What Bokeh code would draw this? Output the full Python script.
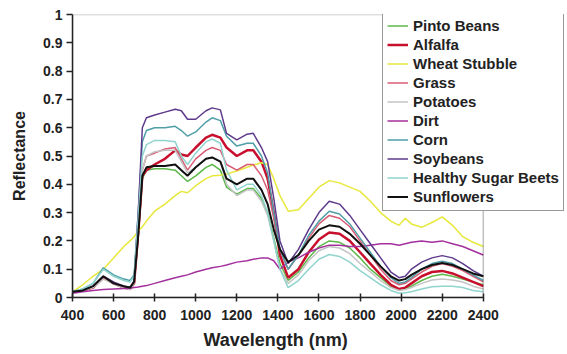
from bokeh.plotting import figure
from bokeh.models import Range1d, FixedTicker, CustomJSTickFormatter, Legend, LegendItem, BoxAnnotation, Title
from bokeh.embed import file_html
from bokeh.resources import INLINE

wavelength = [400, 450, 500, 550, 600, 650, 680, 700, 720, 740,
              760, 800, 850, 900, 930, 960, 1000, 1050, 1080, 1120,
              1150, 1200, 1250, 1280, 1320, 1350, 1380, 1410, 1450, 1500,
              1550, 1600, 1650, 1700, 1750, 1800, 1850, 1900, 1950, 1990,
              2020, 2050, 2100, 2150, 2200, 2250, 2300, 2350, 2400]

pinto_beans = [0.02, 0.025, 0.035, 0.068, 0.05, 0.035, 0.03, 0.05, 0.22, 0.42,
               0.45, 0.455, 0.455, 0.45, 0.43, 0.41, 0.43, 0.46, 0.47, 0.45,
               0.39, 0.365, 0.385, 0.385, 0.35, 0.30, 0.21, 0.12, 0.06, 0.09,
               0.14, 0.18, 0.20, 0.195, 0.175, 0.14, 0.10, 0.07, 0.04, 0.03,
               0.032, 0.04, 0.06, 0.075, 0.082, 0.075, 0.065, 0.055, 0.045]
alfalfa = [0.02, 0.025, 0.035, 0.07, 0.05, 0.035, 0.03, 0.05, 0.23, 0.43,
           0.45, 0.47, 0.49, 0.52, 0.505, 0.50, 0.53, 0.565, 0.575, 0.565,
           0.53, 0.50, 0.52, 0.52, 0.48, 0.42, 0.30, 0.15, 0.07, 0.10,
           0.16, 0.205, 0.23, 0.225, 0.20, 0.16, 0.12, 0.08, 0.045, 0.03,
           0.035, 0.05, 0.075, 0.09, 0.094, 0.085, 0.07, 0.055, 0.04]
wheat_stubble = [0.02, 0.045, 0.075, 0.10, 0.14, 0.18, 0.20, 0.215, 0.235, 0.25,
                 0.27, 0.305, 0.33, 0.36, 0.375, 0.37, 0.395, 0.42, 0.43, 0.432,
                 0.436, 0.447, 0.46, 0.468, 0.476, 0.47, 0.42, 0.36, 0.305, 0.31,
                 0.35, 0.39, 0.413, 0.405, 0.39, 0.375, 0.34, 0.30, 0.27, 0.255,
                 0.28, 0.26, 0.248, 0.265, 0.285, 0.255, 0.215, 0.195, 0.18]
grass = [0.02, 0.025, 0.035, 0.07, 0.05, 0.035, 0.03, 0.05, 0.25, 0.45,
         0.50, 0.51, 0.525, 0.53, 0.49, 0.45, 0.49, 0.52, 0.53, 0.52,
         0.47, 0.45, 0.47, 0.47, 0.43, 0.38, 0.28, 0.17, 0.10, 0.15,
         0.21, 0.26, 0.29, 0.28, 0.25, 0.20, 0.15, 0.10, 0.06, 0.045,
         0.05, 0.065, 0.09, 0.11, 0.12, 0.11, 0.095, 0.075, 0.055]
potatoes = [0.02, 0.025, 0.035, 0.065, 0.048, 0.033, 0.028, 0.05, 0.25, 0.45,
            0.50, 0.515, 0.52, 0.52, 0.48, 0.44, 0.46, 0.49, 0.495, 0.48,
            0.40, 0.36, 0.38, 0.38, 0.34, 0.29, 0.20, 0.10, 0.05, 0.08,
            0.13, 0.165, 0.18, 0.175, 0.155, 0.12, 0.09, 0.06, 0.035, 0.025,
            0.028, 0.035, 0.05, 0.062, 0.065, 0.062, 0.055, 0.04, 0.03]
dirt = [0.015, 0.02, 0.025, 0.028, 0.03, 0.032, 0.033, 0.035, 0.037, 0.04,
        0.042, 0.05, 0.06, 0.07, 0.075, 0.08, 0.09, 0.10, 0.105, 0.11,
        0.115, 0.125, 0.13, 0.135, 0.14, 0.14, 0.13, 0.10, 0.125, 0.14,
        0.16, 0.175, 0.185, 0.185, 0.18, 0.18, 0.185, 0.19, 0.19, 0.185,
        0.19, 0.195, 0.20, 0.195, 0.20, 0.19, 0.18, 0.165, 0.15]
corn = [0.02, 0.03, 0.05, 0.105, 0.08, 0.065, 0.06, 0.08, 0.30, 0.55,
        0.59, 0.60, 0.60, 0.605, 0.59, 0.57, 0.585, 0.62, 0.635, 0.625,
        0.57, 0.535, 0.545, 0.545, 0.50, 0.44, 0.30, 0.17, 0.10, 0.15,
        0.22, 0.27, 0.305, 0.295, 0.26, 0.21, 0.16, 0.11, 0.07, 0.05,
        0.055, 0.07, 0.10, 0.12, 0.128, 0.12, 0.10, 0.08, 0.06]
soybeans = [0.02, 0.025, 0.04, 0.075, 0.055, 0.04, 0.035, 0.06, 0.30, 0.60,
            0.635, 0.645, 0.655, 0.665, 0.66, 0.63, 0.63, 0.66, 0.67, 0.663,
            0.58, 0.557, 0.577, 0.58, 0.53, 0.48, 0.35, 0.20, 0.12, 0.17,
            0.24, 0.30, 0.34, 0.33, 0.29, 0.24, 0.19, 0.14, 0.09, 0.07,
            0.075, 0.10, 0.125, 0.14, 0.148, 0.14, 0.12, 0.095, 0.075]
healthy_sugar_beets = [0.02, 0.03, 0.05, 0.10, 0.075, 0.06, 0.055, 0.075, 0.28, 0.50,
                       0.54, 0.555, 0.555, 0.55, 0.50, 0.47, 0.51, 0.55, 0.56, 0.545,
                       0.45, 0.38, 0.40, 0.40, 0.36, 0.30, 0.20, 0.10, 0.035, 0.06,
                       0.10, 0.135, 0.152, 0.145, 0.125, 0.095, 0.07, 0.045, 0.025, 0.015,
                       0.017, 0.02, 0.03, 0.038, 0.04, 0.04, 0.035, 0.025, 0.02]
sunflowers = [0.02, 0.025, 0.04, 0.075, 0.05, 0.04, 0.035, 0.055, 0.22, 0.43,
              0.46, 0.465, 0.465, 0.47, 0.45, 0.43, 0.46, 0.49, 0.495, 0.48,
              0.42, 0.40, 0.42, 0.42, 0.38, 0.33, 0.24, 0.17, 0.125, 0.15,
              0.20, 0.24, 0.255, 0.25, 0.225, 0.19, 0.15, 0.11, 0.075, 0.06,
              0.065, 0.08, 0.10, 0.115, 0.122, 0.115, 0.10, 0.085, 0.075]

series_names = ["Pinto Beans", "Alfalfa", "Wheat Stubble", "Grass", "Potatoes",
                "Dirt", "Corn", "Soybeans", "Healthy Sugar Beets", "Sunflowers"]
series_values = [pinto_beans, alfalfa, wheat_stubble, grass, potatoes,
                 dirt, corn, soybeans, healthy_sugar_beets, sunflowers]
series_colors = ["#5cb848", "#c8102e", "#e8e83c", "#d85c74", "#c4c4c4",
                 "#a4309e", "#4f9ea8", "#5e3a8c", "#90d4ce", "#111111"]
series_widths = [1.5, 2.5, 1.5, 1.5, 1.5, 1.5, 1.5, 1.5, 1.5, 2.0]

x_ticks = [400, 600, 800, 1000, 1200, 1400, 1600, 1800, 2000, 2200, 2400]
y_ticks = [0, 0.1, 0.2, 0.3, 0.4, 0.5, 0.6, 0.7, 0.8, 0.9, 1.0]
x_min, x_max = 400, 2400
y_min, y_max = 0, 1

FONT = "Liberation Sans"

# frame extends to the right canvas edge so the legend (which overhangs the
# plot box in the reference) is not clipped; the axis stops at 2400
p = figure(width=567, height=354, output_backend="svg", toolbar_location=None,
           x_range=Range1d(x_min, 2810), y_range=Range1d(y_min, y_max),
           min_border_left=72, min_border_right=0, min_border_top=14, min_border_bottom=56)
p.background_fill_color = "white"
p.border_fill_color = "white"
p.outline_line_color = None
p.xgrid.visible = False
p.ygrid.visible = False

renderers = []
for name, vals, col, lw in zip(series_names, series_values, series_colors, series_widths):
    r = p.line(wavelength, vals, line_color=col, line_width=lw)
    renderers.append((name, r))

# plot-area border box
p.add_layout(BoxAnnotation(left=x_min, right=x_max, bottom=y_min, top=y_max,
                           fill_alpha=0, fill_color=None,
                           line_color="#333333", line_width=1.5))

xa = p.xaxis[0]
xa.bounds = (x_min, x_max)
xa.ticker = FixedTicker(ticks=x_ticks)
xa.minor_tick_line_color = None
xa.major_tick_in = 4
xa.major_tick_out = 4
xa.axis_line_width = 1.5
xa.axis_line_color = "#222222"
xa.major_tick_line_width = 1.5
xa.major_tick_line_color = "#222222"
xa.major_label_text_font = FONT
xa.major_label_text_font_style = "bold"
xa.major_label_text_font_size = "14px"
xa.major_label_text_color = "#222222"
xa.major_label_standoff = 8

# x-axis title, centred under the 400-2400 axis (not the wider frame)
xtitle = Title(text="Wavelength (nm)", align="left", offset=131, standoff=10,
               text_font=FONT, text_font_style="bold", text_font_size="18px",
               text_color="#222222")
p.add_layout(xtitle, "below")

ya = p.yaxis[0]
ya.ticker = FixedTicker(ticks=y_ticks)
ya.formatter = CustomJSTickFormatter(code="""
    if (Math.abs(tick) < 1e-9) return "0";
    if (Math.abs(tick - 1) < 1e-9) return "1";
    return tick.toFixed(1);
""")
ya.minor_tick_line_color = None
ya.major_tick_in = 0
ya.major_tick_out = 6
ya.axis_line_width = 1.5
ya.axis_line_color = "#222222"
ya.major_tick_line_width = 1.5
ya.major_tick_line_color = "#222222"
ya.major_label_text_font = FONT
ya.major_label_text_font_style = "bold"
ya.major_label_text_font_size = "14px"
ya.major_label_text_color = "#222222"
ya.major_label_standoff = 4
ya.axis_label = "Reflectance"
ya.axis_label_text_font = FONT
ya.axis_label_text_font_style = "bold"
ya.axis_label_text_font_size = "16px"
ya.axis_label_text_color = "#222222"
ya.axis_label_standoff = 12

legend = Legend(items=[LegendItem(label=n, renderers=[r]) for n, r in renderers],
                location=(310, 86))
legend.label_text_font = FONT
legend.label_text_font_style = "bold"
legend.label_text_font_size = "15px"
legend.label_text_color = "#222222"
legend.glyph_width = 21
legend.glyph_height = 19
legend.label_height = 19
legend.label_standoff = 5
legend.spacing = 0
legend.padding = 4
legend.margin = 0
legend.border_line_color = "#333333"
legend.border_line_width = 1.5
legend.background_fill_color = "white"
legend.background_fill_alpha = 1.0
p.add_layout(legend, "center")

open("out.html", "w").write(file_html(p, INLINE))
